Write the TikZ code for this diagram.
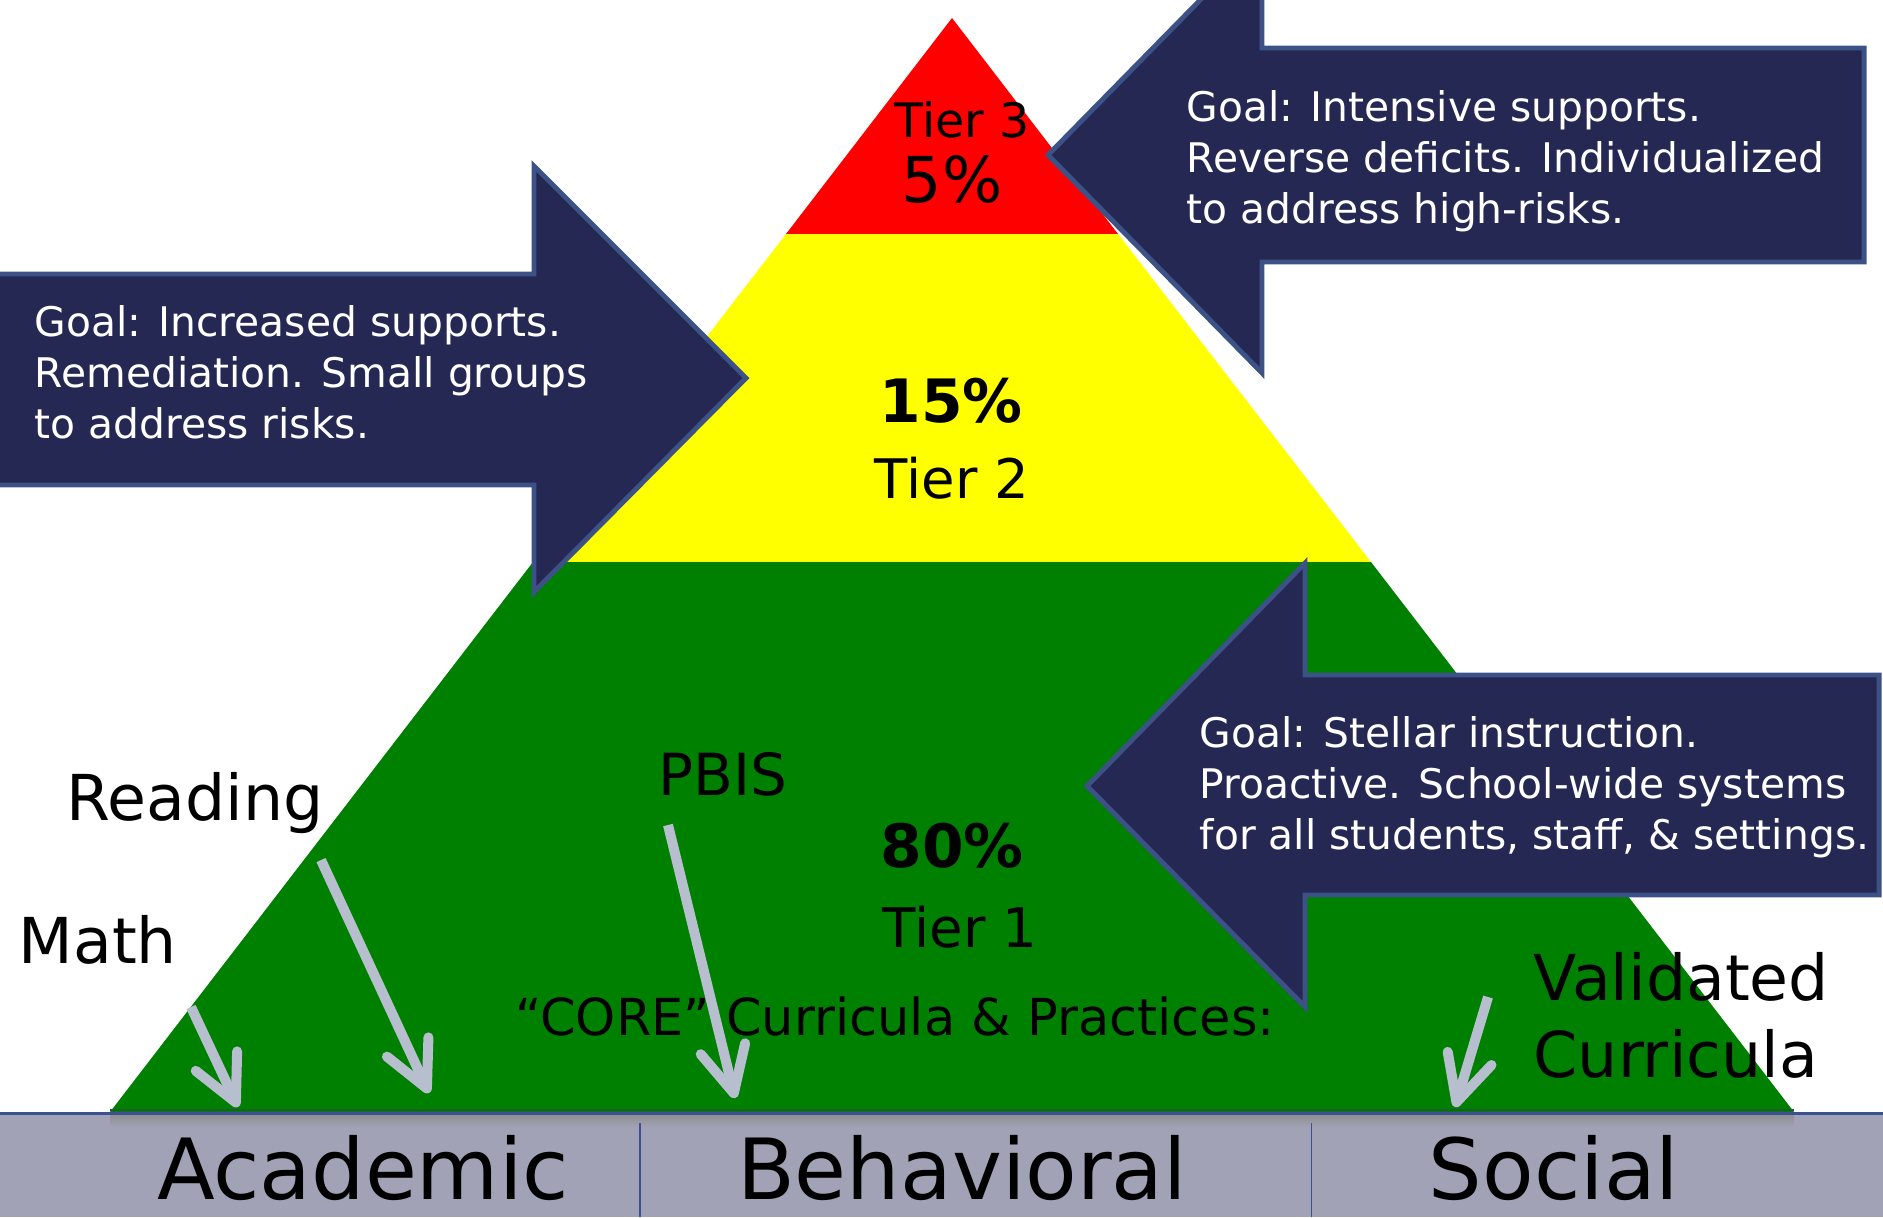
\documentclass[tikz,border=0pt]{standalone}
\usepackage{fontspec}
\setmainfont{DejaVu Sans}
\usetikzlibrary{
  arrows.meta,
  positioning,
}
\definecolor{navy}{RGB}{38,40,84}
\definecolor{navyedge}{RGB}{60,82,135}
\definecolor{tierred}{RGB}{255,0,0}
\definecolor{tieryellow}{RGB}{255,255,0}
\definecolor{tiergreen}{RGB}{0,128,0}
\definecolor{basegreen}{RGB}{30,90,50}
\definecolor{band}{RGB}{161,162,181}
\definecolor{bandline}{RGB}{59,80,145}
\definecolor{pointergray}{RGB}{183,190,205}
\tikzset{
  >={Straight Barb[length=13pt, width=13pt, round]},
  goal/.style={fill=navy, draw=navyedge, line width=1.4pt},
  goaltext/.style={anchor=base west, align=left, inner sep=0pt, text=white,
    font=\fontsize{11.6}{14.4}\selectfont},
  tiertext/.style={anchor=base, inner sep=0pt},
  subject/.style={anchor=base west, align=left, inner sep=0pt,
    font=\fontsize{18}{21.9}\selectfont},
  category/.style={anchor=base, inner sep=0pt, font=\fontsize{24}{28}\selectfont},
  pointer/.style={->, draw=pointergray, line width=2.85pt},
}

\begin{document}
\begin{tikzpicture}[x=0.01cm, y=-0.01cm]
      \useasboundingbox (0, 0) rectangle (1883, 1217);
      \clip (0, 0) rectangle (1883, 1217);

      \fill [band] (0, 1113) rectangle (1883, 1217);
      \shade [top color=black!45, bottom color=band] (110, 1113) rectangle (1794, 1127);
      \draw [bandline, line width=0.3pt] (640, 1123) -- (640, 1217);
      \draw [bandline, line width=0.3pt] (1311, 1123) -- (1311, 1217);

      \fill [tierred] (952, 18) -- (1118, 234) -- (786, 234) -- cycle;
      \fill [tieryellow] (786, 234) -- (1118, 234) -- (1371, 562) -- (533, 562) -- cycle;
      \fill [tiergreen] (533, 562) -- (1371, 562) -- (1794, 1112) -- (110, 1112) -- cycle;
      \draw [basegreen, line width=0.8pt] (110, 1110) -- (1794, 1110);
      \draw [bandline, line width=0.8pt] (0, 1113.5) -- (1883, 1113.5);

      \node [tiertext, font=\fontsize{13.5}{16}\selectfont] (tierthree) at (962, 137) {Tier 3};
      \node [tiertext, font=\fontsize{18}{21}\selectfont] (sharethree) at (952, 202) {5\%};
      \node [tiertext, font=\fontsize{17}{20}\selectfont\bfseries] (sharetwo) at (951, 422) {15\%};
      \node [tiertext, font=\fontsize{15.5}{18}\selectfont] (tiertwo) at (952, 498) {Tier 2};
      \node [tiertext, font=\fontsize{17}{20}\selectfont\bfseries] (shareone) at (952, 867) {80\%};
      \node [tiertext, font=\fontsize{15.5}{18}\selectfont] (tierone) at (960, 947) {Tier 1};

      \draw [goal] (-5, 274) -- (534, 274) -- (534, 166) -- (746, 378) -- (534, 592)
        -- (534, 485) -- (-5, 485) -- cycle;
      \draw [goal] (1864, 48) -- (1262, 48) -- (1262, -63) -- (1048, 155) -- (1262, 373)
        -- (1262, 262) -- (1864, 262) -- cycle;
      \draw [goal] (1879, 675) -- (1305, 675) -- (1305, 563) -- (1087, 786) -- (1305, 1007)
        -- (1305, 895) -- (1879, 895) -- cycle;

      \node [goaltext] (goaltwo) at (34, 438)
        {Goal: Increased supports.\\Remediation. Small groups\\to address risks.};
      \node [goaltext] (goalthree) at (1186, 223)
        {Goal: Intensive supports.\\Reverse deficits. Individualized\\to address high-risks.};
      \node [goaltext] (goalone) at (1199, 849)
        {Goal: Stellar instruction.\\Proactive. School-wide systems\\for all students, staff, \& settings.};

      \node [subject] (reading) at (66, 820) {Reading};
      \node [subject] (math) at (18, 963) {Math};
      \node [subject, font=\fontsize{16.5}{20}\selectfont] (pbis) at (658, 795) {PBIS};
      \node [subject, font=\fontsize{14.5}{17}\selectfont] (core) at (515, 1035)
        {“CORE” Curricula \& Practices:};
      \node [subject] (validated) at (1533, 1077) {Validated\\Curricula};

      \node [category] (academic) at (363, 1199) {Academic};
      \node [category] (behavioral) at (962, 1199) {Behavioral};
      \node [category] (social) at (1554, 1199) {Social};

      \coordinate (mathfrom) at (191, 1007);
      \coordinate (mathto) at (238, 1107);
      \coordinate (readingfrom) at (321, 860);
      \coordinate (readingto) at (429, 1093);
      \coordinate (pbisfrom) at (668, 825);
      \coordinate (pbisto) at (735, 1098);
      \coordinate (validatedfrom) at (1488, 997);
      \coordinate (validatedto) at (1455, 1107);
      \draw [pointer] (mathfrom) -- (mathto);
      \draw [pointer] (readingfrom) -- (readingto);
      \draw [pointer] (pbisfrom) -- (pbisto);
      \draw [pointer] (validatedfrom) -- (validatedto);
    \end{tikzpicture}
\end{document}
